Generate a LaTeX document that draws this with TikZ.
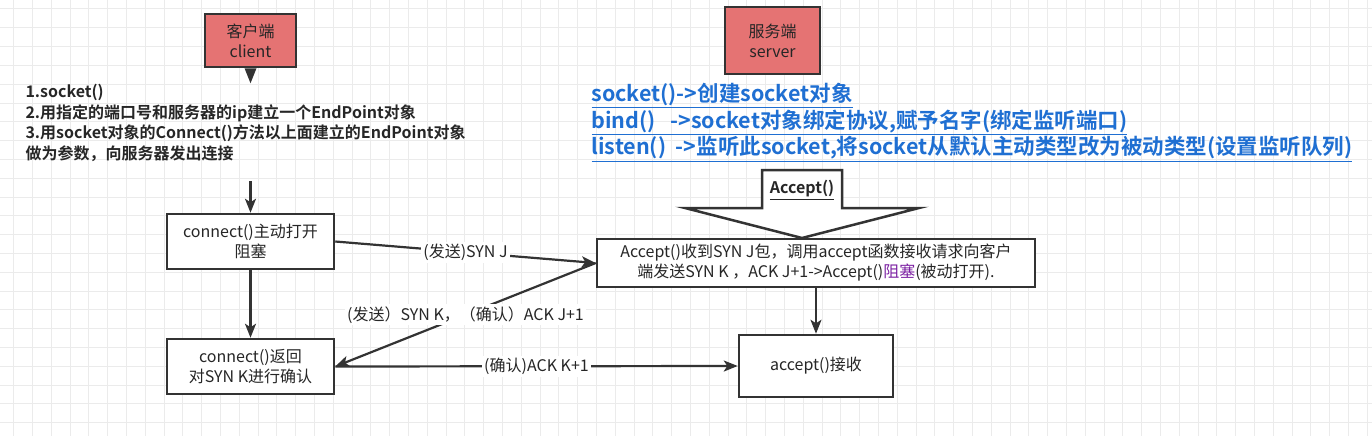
\documentclass[tikz,border=0pt]{standalone}
\usepackage{fontspec}
\setmainfont{Noto Sans CJK SC}[BoldFont={Noto Sans CJK SC Bold}]
\usetikzlibrary{arrows.meta}
\definecolor{boxred}{HTML}{E57373}
\definecolor{linegray}{HTML}{333333}
\definecolor{linkblue}{HTML}{1F6FD2}
\definecolor{holdpurple}{HTML}{7B1FA2}
\definecolor{gridgray}{HTML}{EBEBEB}

\begin{document}
\begin{tikzpicture}[
                    x = 1pt,
                    y = -1pt,
    every node/.style = {font=\fontsize{16}{20}\selectfont, align=center, text=black!85},
           role/.style = {draw=linegray, fill=boxred, line width=2.5pt, inner sep=0pt},
        stepbox/.style = {draw=linegray, fill=white, line width=2.5pt, inner sep=0pt},
           link/.style = {draw=linegray, line width=2.2pt, -{Stealth[length=14pt,width=11pt,inset=3.5pt]}},
            msg/.style = {fill=white, inner sep=2pt},
                     ]
\useasboundingbox (0,0) rectangle (1372,436);
% grid of the canvas
\foreach \gx in {0,...,72}
    \draw[gridgray, line width=0.8pt] (13.5+18.8*\gx,0) -- (13.5+18.8*\gx,436);
\foreach \gy in {0,...,23}
    \draw[gridgray, line width=0.8pt] (0,8.9+18.8*\gy) -- (1372,8.9+18.8*\gy);

% the two sides
\node[role, minimum width=91pt, minimum height=53pt] (client) at (250.5,40.5) {客户端\\client};
\fill[linegray] (client.south) ++(-6,0) -- ++(12,0) -- ++(-6,15) -- cycle;
\node[role, minimum width=95pt, minimum height=67pt] (server) at (772.5,40.5) {服务端\\server};

\node[anchor=north west, align=left, font=\fontsize{16}{20.5}\selectfont\bfseries] (steps) at (22,81)
    {1.socket()\\2.用指定的端口号和服务器的ip建立一个EndPoint对象\\3.用socket对象的Connect()方法以上面建立的EndPoint对象\\做为参数，向服务器发出连接};
\node[anchor=north west, align=left, text=linkblue, font=\fontsize{21.5}{26.5}\selectfont\bfseries] (calls) at (588,80)
    {\underline{socket()->创建socket对象}\\\underline{bind()\ \ \ ->socket对象绑定协议,赋予名字(绑定监听端口)}\\\underline{listen()\ \ ->监听此socket,将socket从默认主动类型改为被动类型(设置监听队列)}};

% accept arrow
\draw[linegray, fill=white, line width=2.5pt, line join=miter]
    (762,170) -- (842,170) -- (842,208) -- (919,208) -- (802,238) -- (685,208) -- (762,208) -- cycle;
\node[font=\fontsize{16}{20}\selectfont\bfseries] (acc) at (802,190) {\underline{Accept()}};

% handshake
\coordinate (top) at (250.5,181);
\node[stepbox, minimum width=167pt, minimum height=55pt] (open) at (250.5,241.5) {connect()主动打开\\阻塞};
\node[stepbox, minimum width=167pt, minimum height=55pt] (ack) at (250.5,366.5) {connect()返回\\对SYN K进行确认};
\node[stepbox, minimum width=438pt, minimum height=48pt] (got) at (816,263)
    {Accept()收到SYN J包，调用accept函数接收请求向客户\\端发送SYN K ，ACK J+1->Accept()\textcolor{holdpurple}{阻塞}(被动打开).};
\node[stepbox, minimum width=154pt, minimum height=62pt] (recv) at (816,366) {accept()接收};

\draw[link] (top) -- (open);
\draw[link] (open) -- (ack);
\draw[link] (open.east) -- node[msg] {(发送)SYN J} (got.west);
\draw[link] (got.west) -- node[msg] {(发送）SYN K，（确认）ACK J+1} (ack.east);
\draw[link] (ack.east) -- node[msg] {(确认)ACK K+1} (recv.west);
\draw[link] (got) -- (recv);
\end{tikzpicture}
\end{document}
